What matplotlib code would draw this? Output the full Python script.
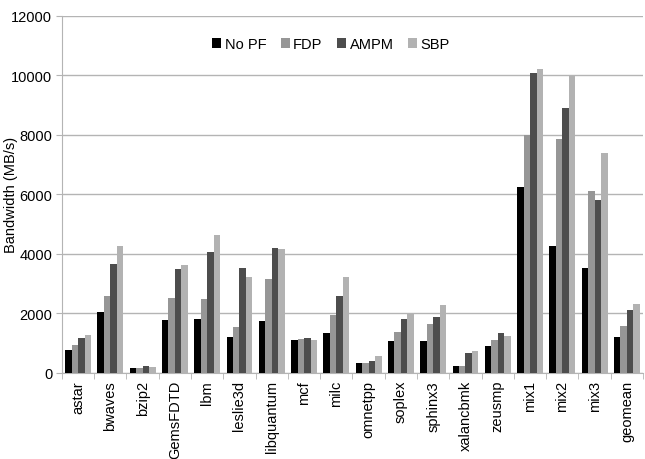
import numpy as np
import matplotlib
matplotlib.use('Agg')
import matplotlib.pyplot as plt

plt.rcParams['font.family'] = ['Liberation Sans', 'DejaVu Sans']

# benchmarks
categories = ["astar", "bwaves", "bzip2", "GemsFDTD", "lbm", "leslie3d",
              "libquantum", "mcf", "milc", "omnetpp", "soplex", "sphinx3",
              "xalancbmk", "zeusmp", "mix1", "mix2", "mix3", "geomean"]

# bandwidth in MB/s
no_pf = [771, 2045, 168, 1777, 1810, 1207, 1743, 1106, 1341, 335, 1073, 1073,
         235, 905, 6235, 4257, 3520, 1207]
fdp = [939, 2581, 168, 2514, 2480, 1542, 3151, 1140, 1944, 335, 1374, 1642,
       235, 1106, 7978, 7844, 6101, 1575]
ampm = [1173, 3654, 235, 3486, 4056, 3520, 4190, 1173, 2581, 402, 1810, 1877,
        670, 1341, 10056, 8883, 5799, 2112]
sbp = [1274, 4257, 201, 3620, 4626, 3218, 4156, 1106, 3218, 570, 1978, 2279,
       737, 1240, 10190, 9978, 7374, 2313]

series = [("No PF", no_pf, "#000000"),
          ("FDP", fdp, "#969696"),
          ("AMPM", ampm, "#4d4d4d"),
          ("SBP", sbp, "#b2b2b2")]

fig = plt.figure(figsize=(6.45, 4.6), dpi=100)
ax = fig.add_axes([0.096, 0.187, 0.901, 0.777])

x = np.arange(len(categories))
w = 0.2
for i, (name, vals, col) in enumerate(series):
    ax.bar(x + (i - 1.5) * w, vals, width=w, color=col, label=name, zorder=3)

ax.set_xlim(-0.5, len(categories) - 0.5)
ax.set_ylim(0, 12000)
ax.set_yticks(range(0, 12001, 2000))
ax.yaxis.grid(True, color="#b4b4b4", linewidth=1.0, zorder=0)
ax.set_axisbelow(True)

ax.set_xticks(x)
ax.set_xticklabels(categories, rotation=90, fontsize=10.5)
ax.set_xticks(np.arange(-0.5, len(categories), 1), minor=True)
ax.tick_params(axis="x", which="major", length=0, pad=5)
ax.tick_params(axis="x", which="minor", length=4, color="#b4b4b4")
ax.tick_params(axis="y", length=4, color="#b4b4b4", labelsize=10.5, pad=3)

for s in ("top", "right"):
    ax.spines[s].set_visible(False)
ax.spines["left"].set_color("#b4b4b4")
ax.spines["bottom"].set_color("#b4b4b4")

ax.set_ylabel("Bandwidth (MB/s)", fontsize=10.5)
ax.yaxis.set_label_coords(-0.076, 0.5)

ax.legend(loc="center", bbox_to_anchor=(0.463, 0.92), ncol=4, frameon=False,
          fontsize=10.5, handlelength=0.6, handleheight=0.6, handletextpad=0.25,
          columnspacing=1.0)

plt.savefig("out.png", dpi=100)
